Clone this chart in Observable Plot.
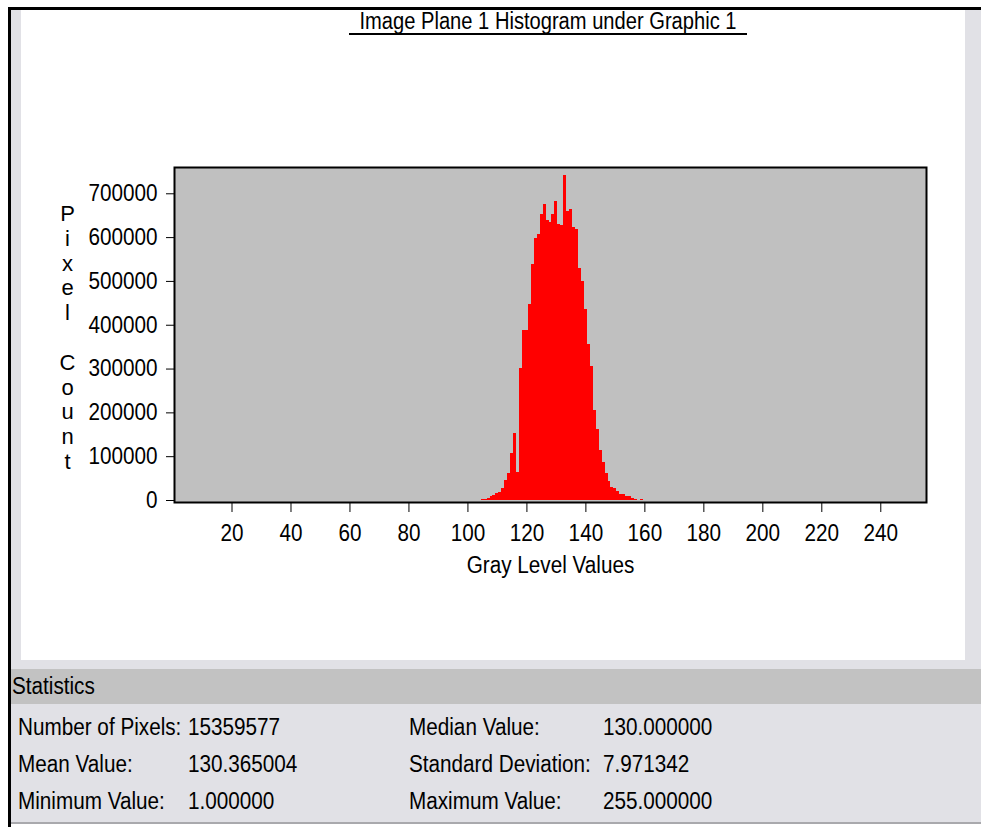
<!DOCTYPE html>
<html>
<head>
<meta charset="utf-8">
<script src="https://cdn.jsdelivr.net/npm/d3@7"></script>
<script src="https://cdn.jsdelivr.net/npm/@observablehq/plot@0.6"></script>
<style>
  html, body { margin: 0; padding: 0; background: #ffffff; }
  body { width: 981px; height: 827px; position: relative; overflow: hidden;
         font-family: 'Liberation Sans', Arial, sans-serif; }
  .abs { position: absolute; }
  .narrow { display: inline-block; transform: scaleX(0.9); transform-origin: left center; }
  #topline { left: 8px; top: 7px; width: 973px; height: 3px; background: #000; }
  #leftline { left: 8px; top: 7px; width: 3px; height: 820px; background: #000; }
  #leftstrip { left: 11px; top: 10px; width: 10px; height: 658px; background: #e1e1e6; }
  #rightstrip { left: 965px; top: 10px; width: 16px; height: 658px; background: #e1e1e6; }
  #gapstrip { left: 11px; top: 660px; width: 970px; height: 9px; background: #e1e1e6; }
  #panel { left: 21px; top: 10px; width: 944px; height: 650px; background: #ffffff; }
  #title { left: 349px; top: 9px; width: 398px; height: 24px; line-height: 24px; font-size: 23px;
           color: #000; border-bottom: 2px solid #000; white-space: nowrap; }
  #title span { position: absolute; left: 50%; top: 0; transform: translateX(-50%) scaleX(0.875); }
  #statsHead { left: 11px; top: 669px; width: 970px; height: 35px; background: #c2c2c2;
               font-size: 23px; line-height: 35px; color: #000; white-space: nowrap; }
  #statsHead span { margin-left: 1px; }
  #statsBody { left: 11px; top: 704px; width: 970px; height: 118px; background: #e1e1e6; }
  #bottomline { left: 11px; top: 822px; width: 970px; height: 2px; background: #a9a9ad; }
  .stat { position: absolute; font-size: 23px; line-height: 24px; color: #000; white-space: nowrap; }
</style>
</head>
<body>
<div id="topline" class="abs"></div>
<div id="leftline" class="abs"></div>
<div id="leftstrip" class="abs"></div>
<div id="rightstrip" class="abs"></div>
<div id="gapstrip" class="abs"></div>
<div id="panel" class="abs"></div>
<div id="title" class="abs"><span></span></div>
<div id="statsHead" class="abs"><span class="narrow">Statistics</span></div>
<div id="statsBody" class="abs"></div>
<div id="bottomline" class="abs"></div>
<div id="chart" class="abs" style="left:21px; top:10px;"></div>
<script>
// Histogram of gray levels (pixel count per level)
const titleText = "Image Plane 1 Histogram under Graphic 1";
const xLabel = "Gray Level Values";
const yLabel = "Pixel Count";

const grayLevels = [105, 106, 107, 108, 109, 110, 111, 112, 113, 114, 115, 116, 117, 118, 119, 120,
  121, 122, 123, 124, 125, 126, 127, 128, 129, 130, 131, 132, 133, 134, 135, 136, 137, 138, 139, 140,
  141, 142, 143, 144, 145, 146, 147, 148, 149, 150, 151, 152, 153, 154, 155, 156, 157, 158, 159];
const pixelCounts = [3000, 1500, 5000, 8000, 11000, 15000, 19000, 27000, 45000, 61000, 108000, 152000, 65000, 301000, 387000, 389000,
  448000, 539000, 598000, 606000, 653000, 675000, 640000, 634000, 652000, 683000, 630000, 628000, 742000, 660000, 664000, 622000, 619000, 530000, 499000, 436000,
  357000, 305000, 205000, 163000, 115000, 86000, 62000, 43000, 30000, 27000, 20000, 14000, 13000, 10000, 9000, 5000, 3000, 0, 3000];

const xTicks = [20, 40, 60, 80, 100, 120, 140, 160, 180, 200, 220, 240];
const yTicks = [0, 100000, 200000, 300000, 400000, 500000, 600000, 700000];

// Summary statistics shown under the chart
const statLabelsLeft = ["Number of Pixels:", "Mean Value:", "Minimum Value:"];
const statValuesLeft = ["15359577", "130.365004", "1.000000"];
const statLabelsRight = ["Median Value:", "Standard Deviation:", "Maximum Value:"];
const statValuesRight = ["130.000000", "7.971342", "255.000000"];

const bins = grayLevels.map((g, i) => ({level: g, count: pixelCounts[i]}));
const fontFamily = "'Liberation Sans', Arial, sans-serif";

document.querySelector("#title span").textContent = titleText;

const chart = Plot.plot({
  width: 944,
  height: 650,
  marginLeft: 153,
  marginRight: 39,
  marginTop: 157,
  marginBottom: 158,
  style: {fontFamily, fontSize: "23px", color: "#000", background: "transparent", overflow: "visible"},
  x: {domain: [0.5, 255.5]},
  y: {domain: [0, 760000], insetBottom: 2},
  marks: [
    Plot.frame({fill: "#c0c0c0"}),
    Plot.rectY(bins, {
      filter: d => d.count > 0,
      x1: d => d.level - 0.5, x2: d => d.level + 0.5, y: "count",
      fill: "#ff0000", shapeRendering: "crispEdges"
    }),
    Plot.frame({stroke: "#000", strokeWidth: 2}),
    Plot.axisX({ticks: xTicks, tickSize: 10, tickPadding: 12, label: null, tickFormat: d3.format("d"), stroke: "#000", fill: "#000"}),
    Plot.axisY({ticks: yTicks, tickSize: 8, tickPadding: 9, label: null, tickFormat: d3.format("d"), stroke: "#000", fill: "#000"}),
    Plot.text([xLabel], {text: d => d, frameAnchor: "bottom", dy: 63, lineAnchor: "middle", fill: "#000", fontSize: 23}),
    Plot.text([yLabel.split("").join("\n")], {
      text: d => d, frameAnchor: "left", dx: -107, dy: 2, lineAnchor: "middle",
      textAnchor: "middle", lineHeight: 1.127, fill: "#000", fontSize: 22
    })
  ]
});
document.getElementById("chart").appendChild(chart);

// Condense single-line SVG labels to the narrow face of the original UI font
chart.querySelectorAll("text").forEach(t => {
  if (t.querySelector("tspan")) return;
  const len = t.getComputedTextLength();
  if (len > 0) {
    t.setAttribute("textLength", (len * 0.9).toFixed(2));
    t.setAttribute("lengthAdjust", "spacingAndGlyphs");
  }
});

// Statistics rows
const rowsY = [715, 752, 789];
function addStat(text, x, y) {
  const el = document.createElement("div");
  el.className = "stat";
  el.style.left = x + "px";
  el.style.top = y + "px";
  const s = document.createElement("span");
  s.className = "narrow";
  s.textContent = text;
  el.appendChild(s);
  document.body.appendChild(el);
}
rowsY.forEach((y, i) => {
  addStat(statLabelsLeft[i], 18, y);
  addStat(statValuesLeft[i], 188, y);
  addStat(statLabelsRight[i], 409, y);
  addStat(statValuesRight[i], 603, y);
});
</script>
</body>
</html>
